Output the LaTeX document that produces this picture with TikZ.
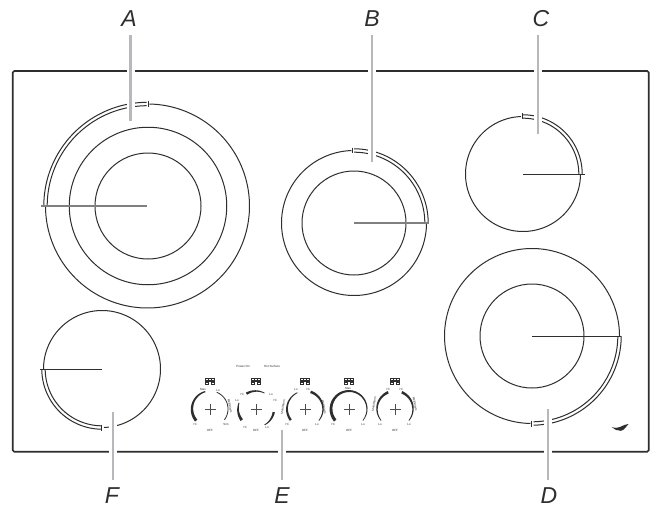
\documentclass[tikz,border=0pt]{standalone}
\usepackage{fontspec}
\setmainfont{Liberation Sans}
\definecolor{ink}{HTML}{2E2E2E}
\definecolor{leadgray}{HTML}{B7B7BC}
\definecolor{rodgray}{HTML}{808080}
\newcommand{\barc}[5]{\draw[ringline] plot[domain=#4:#5,samples=120,variable=\t] ({#1+(#2)*cos(\t)},{#3-(#2)*sin(\t)});}
\newcommand{\thinarc}[4]{\draw[dialline] plot[domain=#3:#4,samples=60,variable=\t] ({#1+(#2)*cos(\t)},{409-(#2)*sin(\t)});}
\newcommand{\dblarc}[5]{\barc{#1}{#2+1.7}{#3}{#4}{#5}\barc{#1}{#2-1.7}{#3}{#4}{#5}}
\newcommand{\taper}[5]{\fill[ink] plot[domain=0:1,samples=25,variable=\t] ({#1+(18+(#4+(#5-#4)*\t)/2)*cos(#2+(#3-#2)*\t)},{409-(18+(#4+(#5-#4)*\t)/2)*sin(#2+(#3-#2)*\t)}) -- plot[domain=1:0,samples=25,variable=\t] ({#1+(18-(#4+(#5-#4)*\t)/2)*cos(#2+(#3-#2)*\t)},{409-(18-(#4+(#5-#4)*\t)/2)*sin(#2+(#3-#2)*\t)}) -- cycle;}
\newcommand{\hobicon}[1]{%
  \fill[ink] (#1-5,377.8) rectangle (#1+5,385.2);
  \fill[white] (#1-3.6,379.2) rectangle (#1-2.4,380.4);
  \fill[white] (#1-.6,379.2) rectangle (#1+.6,380.4);
  \fill[white] (#1+2.4,379.2) rectangle (#1+3.6,380.4);
  \fill[white] (#1-1.2,381.8) rectangle (#1+1.2,385.2);
  \fill[white] (#1-3.6,382.6) rectangle (#1-2.4,383.8);
  \fill[white] (#1+2.4,382.6) rectangle (#1+3.6,383.8);
  \draw[plusmark] (#1-5.5,409) -- (#1+5.5,409) (#1,403.5) -- (#1,414.5);
  \node[tiny] at (#1,430.5) {OFF};}
\tikzset{
  x=1pt,y=-1pt,
  ringline/.style={draw=ink,line width=1pt},
  dialline/.style={draw=ink,line width=.8pt},
  burner/.style={circle,draw=ink,line width=1pt,inner sep=0pt,fill=none},
  frameline/.style={draw=ink,line width=1.6pt,rounded corners=1.5pt},
  rodthick/.style={draw=rodgray,line width=1.5pt},
  rodthin/.style={draw=ink,line width=1pt},
  leaderline/.style={draw=leadgray,line width=2.2pt,shorten <=8pt,preaction={draw=white,line width=8pt,shorten <=8pt}},
  letter/.style={font=\fontsize{23}{23}\selectfont\itshape,text=ink,inner sep=0pt},
  tiny/.style={font=\fontsize{3}{3}\selectfont,text=ink,inner sep=0pt},
  plusmark/.style={draw=ink!85,line width=.8pt},
}
\begin{document}
\begin{tikzpicture}
\useasboundingbox (0,0) rectangle (655,508);
\fill[white] (0,0) rectangle (655,508);
\draw[frameline] (12.7,71) rectangle (648.7,451.7);
% burner A
\node[burner,minimum size=157.5pt] (A2) at (148,206) {};
\node[burner,minimum size=106pt] (A1) at (148,206) {};
\barc{147.5}{102}{206}{-180}{89}
\dblarc{147.5}{102}{206}{90.5}{180}
\draw[ringline] (148,100.7) -- (148,106.7);
% burner B
\node[burner,minimum size=104pt] (B1) at (354,223) {};
\barc{354}{72.5}{223}{92}{360}
\dblarc{354}{72.5}{223}{0}{90}
\draw[ringline] (352.7,147.5) -- (352.7,153);
% burner C
\barc{523}{57.5}{174}{92}{360}
\dblarc{523}{57.5}{174}{0}{90}
\draw[ringline] (522,113.5) -- (522,119);
% burner D
\node[burner,minimum size=104pt] (D1) at (532,336) {};
\barc{532}{87.5}{336}{0}{269}
\dblarc{532}{87.5}{336}{-89}{0}
\draw[ringline] (531,420.5) -- (531,426.5);
% burner F
\barc{102}{58.5}{369}{-88}{180}
\dblarc{102}{58.5}{369}{180}{269}
\draw[ringline] (101,424.5) -- (101,430.5);
% rods
\coordinate (Ac) at (147,206); \coordinate (Ar) at (41,206);
\coordinate (Bc) at (354,223); \coordinate (Br) at (428.5,223);
\coordinate (Cc) at (523,174); \coordinate (Cr) at (585,174);
\coordinate (Dc) at (532,336); \coordinate (Dr) at (621,336);
\coordinate (Fc) at (102,369); \coordinate (Fr) at (40,369);
\draw[rodthick] (Ac) -- (Ar);
\draw[rodthick] (Bc) -- (Br);
\draw[rodthin] (Cc) -- (Cr);
\draw[rodthin] (Dc) -- (Dr);
\draw[rodthin] (Fc) -- (Fr);
% controls
\node[tiny] at (243,366) {Power On};
\node[tiny] at (272,366) {Hot Surface};
\hobicon{210}\hobicon{256}\hobicon{305}\hobicon{349}\hobicon{395}
% dial 1
\taper{210}{220}{105}{3}{1.2}
\thinarc{210}{18}{-37}{68}
\node[tiny] at (203,389) {Max};
\node[tiny] at (218,390) {Lo};
\node[tiny] at (195,424) {Hi};
\node[tiny] at (226,424) {Sim};
\node[tiny,rotate=-80] at (230,406) {Melt/Warm};
% dial 2
\taper{256}{122}{62}{2.4}{.7}
\taper{256}{218}{160}{3}{.8}
\taper{256}{-10}{-62}{2.4}{.7}
\node[tiny] at (242,394) {Hi};
\node[tiny] at (271,394) {Lo};
\node[tiny] at (237,400) {Lo};
\node[tiny] at (275,400) {Hi};
\node[tiny] at (245,427) {Hi};
\node[tiny] at (267,427) {Lo};
% dial 3
\taper{305}{218}{115}{2.4}{.8}
\taper{305}{72}{-40}{2.6}{.7}
\node[tiny] at (296,389) {Lo};
\node[tiny] at (308,389) {Hi};
\node[tiny] at (287,424) {Hi};
\node[tiny] at (317,424) {Lo};
\node[tiny,rotate=80] at (283,407) {Melt/Warm};
\node[tiny,rotate=-80] at (324,407) {Melt/Warm};
% dial 4
\taper{349}{220}{-40}{3.2}{.7}
\node[tiny] at (348,388.5) {Max};
\node[tiny] at (333,424) {Hi};
\node[tiny] at (363,424) {Lo};
% dial 5
\taper{395}{112}{220}{2.6}{.7}
\taper{395}{68}{-40}{2.6}{.7}
\node[tiny] at (388,389) {Hi};
\node[tiny] at (401,389) {Hi};
\node[tiny] at (380,424) {Lo};
\node[tiny] at (409,424) {Lo};
\node[tiny,rotate=80] at (374,404) {Melt/Warm};
\node[tiny,rotate=-80] at (415,404) {Melt/Warm};
% logo
\fill[ink] (611.5,427) .. controls (615,428.2) and (618,428) .. (620,427) .. controls (623,425.2) and (626,424.4) .. (628.5,424) .. controls (626,426.5) and (624.5,430) .. (621,430.8) .. controls (617.5,431) and (614,429.5) .. (611.5,427) -- cycle;
% labels and leaders
\node[letter] (labA) at (129,19) {A};
\node[letter] (labB) at (372,19) {B};
\node[letter] (labC) at (541,19) {C};
\node[letter] (labD) at (549,496) {D};
\node[letter] (labE) at (282,496) {E};
\node[letter] (labF) at (112,496) {F};
\coordinate (endA) at (130.5,121);
\coordinate (endB) at (371.7,162);
\coordinate (endC) at (538.3,134);
\coordinate (endD) at (548,409);
\coordinate (endE) at (282,430);
\coordinate (endF) at (113,412);
\draw[leaderline] (endA |- labA.south) -- (endA);
\draw[leaderline] (endB |- labB.south) -- (endB);
\draw[leaderline] (endC |- labC.south) -- (endC);
\draw[leaderline] (endD |- labD.north) -- (endD);
\draw[leaderline] (endE |- labE.north) -- (endE);
\draw[leaderline] (endF |- labF.north) -- (endF);
\end{tikzpicture}
\end{document}
